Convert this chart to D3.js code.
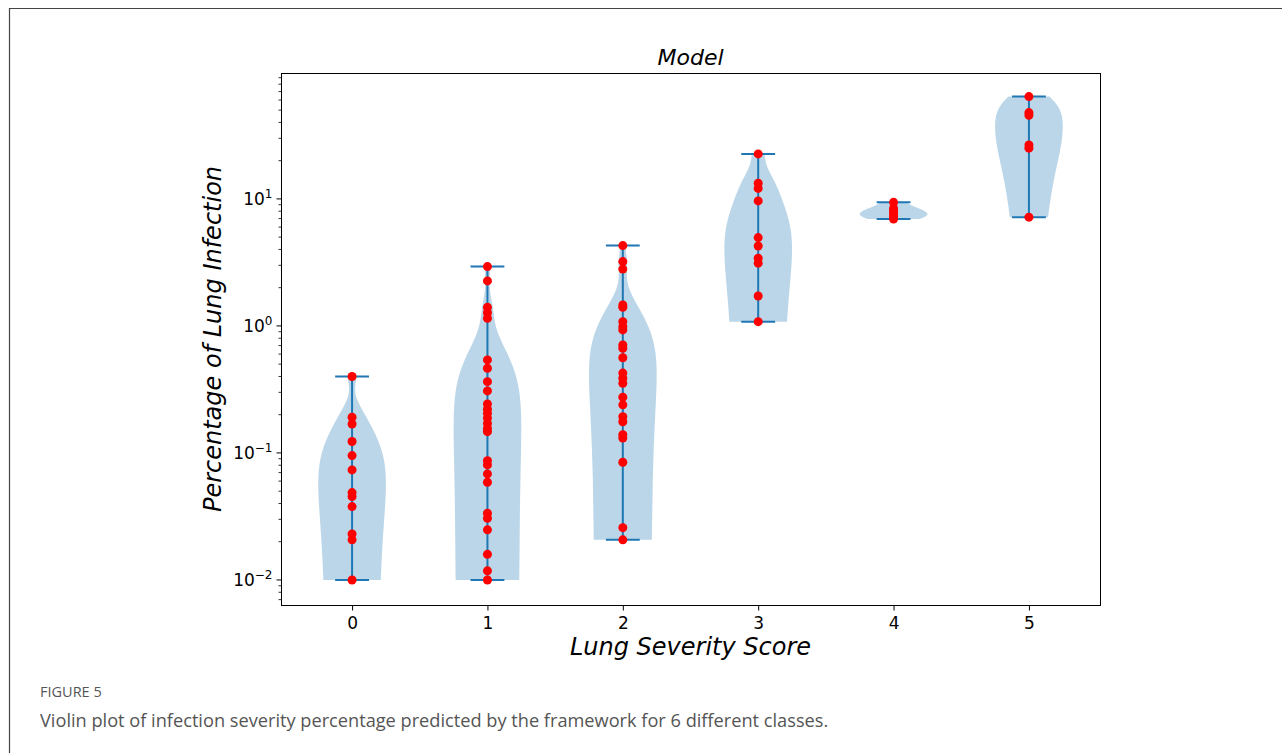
<!DOCTYPE html>
<html>
<head>
<meta charset="utf-8">
<script src="https://cdn.jsdelivr.net/npm/d3@7"></script>
<style>
  body { margin: 0; background: #fff; }
  svg { display: block; }
</style>
</head>
<body>
<script>
// data: predicted infection % per severity class
let scores = [0, 1, 2, 3, 4, 5];
let class0 = [0.4, 0.191, 0.169, 0.123, 0.0953, 0.0735, 0.0487, 0.0453, 0.0378, 0.023, 0.0207, 0.01];
let class1 = [2.93, 2.26, 1.40, 1.27, 1.15, 0.54, 0.464, 0.364, 0.308, 0.243, 0.221, 0.205, 0.188,
              0.171, 0.156, 0.147, 0.0869, 0.0805, 0.0684, 0.0588, 0.0335, 0.0306, 0.0248, 0.0159, 0.0118, 0.01];
let class2 = [4.29, 3.21, 2.80, 1.46, 1.40, 1.08, 0.987, 0.93, 0.709, 0.667, 0.562, 0.425, 0.388, 0.354,
              0.275, 0.239, 0.193, 0.176, 0.139, 0.131, 0.0845, 0.0258, 0.0207];
let class3 = [22.6, 13.3, 12.1, 9.64, 4.96, 4.26, 3.41, 3.12, 1.72, 1.08];
let class4 = [9.4, 8.4, 8.0, 7.6, 7.2, 6.95];
let class5 = [63.9, 47.8, 45.5, 26.6, 25.1, 7.18];
let groups = [class0, class1, class2, class3, class4, class5];
let yTickExp = [-2, -1, 0, 1];

let W = 1282, H = 753;
let margin = {top: 73, right: 182, bottom: 148, left: 281};

let svg = d3.select("body").append("svg")
    .attr("width", W).attr("height", H);

// outer figure frame (top + left edge)
svg.append("path")
    .attr("d", `M9.5,${H} L9.5,8.5 L${W},8.5`)
    .attr("fill", "none").attr("stroke", "#444").attr("stroke-width", 1.2);

let x = d3.scaleLinear([-0.525, 5.525], [margin.left, W - margin.right]);
let y = d3.scaleLog([0.00635, 98], [H - margin.bottom, margin.top]);

let blue = "#1f77b4";

// gaussian kde like matplotlib violinplot (scott's rule, linear space)
function kde(vals) {
    let n = vals.length;
    let sd = d3.deviation(vals);
    let bw = sd * Math.pow(n, -0.2);
    let lo = d3.min(vals), hi = d3.max(vals);
    let pts = d3.range(100).map(i => lo + (hi - lo) * i / 99);
    let dens = pts.map(p => d3.sum(vals, v => Math.exp(-0.5 * ((p - v) / bw) ** 2)));
    let m = d3.max(dens);
    return pts.map((p, i) => [p, 0.25 * dens[i] / m]);
}

let plot = svg.append("g");

groups.forEach((vals, gi) => {
    let pos = scores[gi];
    let shape = kde(vals);
    plot.append("path")
        .datum(shape)
        .attr("fill", blue)
        .attr("fill-opacity", 0.3)
        .attr("d", d3.area()
            .y(d => y(d[0]))
            .x0(d => x(pos - d[1]))
            .x1(d => x(pos + d[1])));
});

groups.forEach((vals, gi) => {
    let pos = scores[gi];
    let lo = d3.min(vals), hi = d3.max(vals);
    let g = plot.append("g").attr("stroke", blue).attr("stroke-width", 2);
    g.append("line").attr("x1", x(pos)).attr("x2", x(pos)).attr("y1", y(lo)).attr("y2", y(hi));
    for (let v of [lo, hi]) {
        g.append("line").attr("x1", x(pos - 0.125)).attr("x2", x(pos + 0.125))
            .attr("y1", y(v)).attr("y2", y(v));
    }
});

groups.forEach((vals, gi) => {
    plot.append("g").selectAll("circle")
        .data(vals)
        .join("circle")
        .attr("cx", x(scores[gi]))
        .attr("cy", d => y(d))
        .attr("r", 4.5)
        .attr("fill", "red");
});

// axes frame
svg.append("rect")
    .attr("x", margin.left + 0.5).attr("y", margin.top + 0.5)
    .attr("width", W - margin.right - margin.left)
    .attr("height", H - margin.bottom - margin.top)
    .attr("fill", "none").attr("stroke", "#000").attr("stroke-width", 1);

let font = "'DejaVu Sans', sans-serif";

// x axis
let xAxis = svg.append("g")
    .attr("transform", `translate(0,${H - margin.bottom + 0.5})`)
    .call(d3.axisBottom(x).tickValues(scores).tickSize(5).tickPadding(6).tickFormat(d3.format("d")));
xAxis.select(".domain").remove();
xAxis.selectAll("text").style("font-family", font).style("font-size", "17px").attr("fill", "#000");

// y axis, log ticks with minors
let minors = [];
for (let e = -3; e <= 1; e++) {
    for (let k = 2; k <= 9; k++) {
        let v = k * Math.pow(10, e);
        if (v >= y.domain()[0] && v <= y.domain()[1]) minors.push(v);
    }
}
let yAxis = svg.append("g").attr("transform", `translate(${margin.left + 0.5},0)`);
yAxis.selectAll("line.minor")
    .data(minors).join("line")
    .attr("class", "minor")
    .attr("x1", -3).attr("x2", 0)
    .attr("y1", d => y(d)).attr("y2", d => y(d))
    .attr("stroke", "#000").attr("stroke-width", 0.8);
yAxis.selectAll("line.major")
    .data(yTickExp).join("line")
    .attr("class", "major")
    .attr("x1", -5).attr("x2", 0)
    .attr("y1", d => y(Math.pow(10, d))).attr("y2", d => y(Math.pow(10, d)))
    .attr("stroke", "#000").attr("stroke-width", 1);
let lab = yAxis.selectAll("text")
    .data(yTickExp).join("text")
    .attr("x", -9)
    .attr("y", d => y(Math.pow(10, d)) + 6)
    .attr("text-anchor", "end")
    .style("font-family", font).style("font-size", "17px");
lab.append("tspan").text("10");
lab.append("tspan").attr("dy", -7).style("font-size", "12px")
    .text(d => d < 0 ? "\u2212" + (-d) : String(d));

// titles
svg.append("text")
    .attr("x", (margin.left + W - margin.right) / 2).attr("y", 65)
    .attr("text-anchor", "middle")
    .style("font-family", font).style("font-size", "22px").style("font-style", "italic")
    .text("Model");
svg.append("text")
    .attr("x", (margin.left + W - margin.right) / 2).attr("y", 655)
    .attr("text-anchor", "middle")
    .style("font-family", font).style("font-size", "24px").style("font-style", "italic")
    .text("Lung Severity Score");
svg.append("text")
    .attr("transform", `translate(221,${(margin.top + H - margin.bottom) / 2}) rotate(-90)`)
    .attr("text-anchor", "middle")
    .style("font-family", font).style("font-size", "24px").style("font-style", "italic")
    .text("Percentage of Lung Infection");

// caption
svg.append("text")
    .attr("x", 40).attr("y", 697)
    .style("font-family", "'Open Sans', sans-serif").style("font-size", "14.5px").attr("fill", "#555")
    .text("FIGURE 5");
svg.append("text")
    .attr("x", 40).attr("y", 727)
    .style("font-family", "'Open Sans', sans-serif").style("font-size", "18.2px").attr("fill", "#555")
    .text("Violin plot of infection severity percentage predicted by the framework for 6 different classes.");
</script>
</body>
</html>
